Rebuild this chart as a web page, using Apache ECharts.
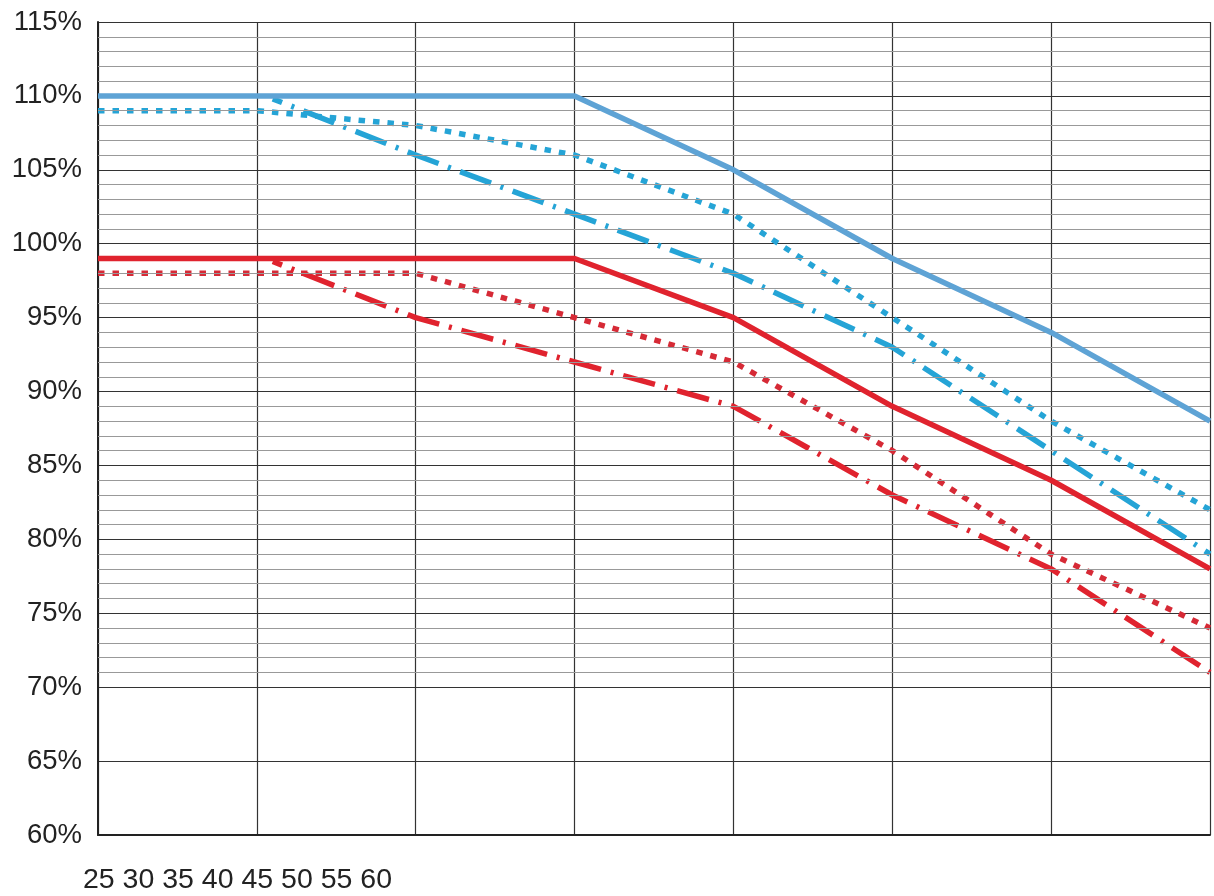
<!DOCTYPE html>
<html>
<head>
<meta charset="utf-8">
<script src="https://cdn.jsdelivr.net/npm/echarts@6/dist/echarts.min.js"></script>
<style>
  html, body { margin: 0; padding: 0; background: #fff; }
  #chart { width: 1214px; height: 896px; }
</style>
</head>
<body>
<div id="chart"></div>
<script>
// x 轴刻度（参考图中标签挤在左下角）
var xTicks = [25, 30, 35, 40, 45, 50, 55, 60];
// 点划线从 30 之后才开始
var dashDotX = [30.5, 35, 40, 45, 50, 55, 60];

// 蓝色三条
var blueSolid = [110, 110, 110, 110, 105, 99, 94, 88];
var blueDotted = [109, 109, 108, 106, 102, 95, 88, 82];
var blueDashDot = [109.8, 106, 102, 98, 93, 86, 79];

// 红色三条
var redSolid = [99, 99, 99, 99, 95, 89, 84, 78];
var redDotted = [98, 98, 98, 95, 92, 86, 79, 74];
var redDashDot = [98.8, 95, 92, 89, 83, 78, 71];

// 细网格线只画在 70%~115% 之间
var minorLines = [];
for (var v = 71; v < 115; v++) {
    if (v % 5 !== 0) minorLines.push({ yAxis: v });
}

function pairs(xs, ys) {
    var out = [];
    ys.forEach(function(item, index) {
        out.push([xs[index], item]);
    });
    return out;
}

var FONT = '"Liberation Sans", Arial, sans-serif';
var BLUE = '#5ea3d5';
var CYAN = '#25a4d6';
var RED = '#e0232e';

var myChart = echarts.init(document.getElementById('chart'));

var option = {
    animation: false,
    grid: { left: 98, right: 4, top: 22, bottom: 61 },
    xAxis: {
        type: 'value',
        min: 25,
        max: 60,
        interval: 5,
        axisLabel: { show: false },
        axisTick: { show: false },
        axisLine: { show: true, lineStyle: { color: '#222', width: 2 } },
        splitLine: { show: true, lineStyle: { color: '#333', width: 1.2 } }
    },
    yAxis: {
        type: 'value',
        min: 60,
        max: 115,
        interval: 5,
        axisTick: { show: false },
        axisLine: { show: true, lineStyle: { color: '#222', width: 2 } },
        splitLine: { show: true, lineStyle: { color: '#333', width: 1.2 } },
        axisLabel: {
            formatter: '{value}%',
            color: '#222',
            fontSize: 27.5,
            fontFamily: FONT,
            margin: 16
        }
    },
    graphic: [{
        type: 'text',
        left: 83,
        top: 866,
        style: {
            text: xTicks.join(' '),
            fill: '#222',
            fontSize: 28.5,
            fontFamily: FONT
        }
    }],
    series: [
        {
            // 细网格线
            type: 'line',
            data: [],
            z: 1,
            silent: true,
            markLine: {
                silent: true,
                symbol: 'none',
                label: { show: false },
                lineStyle: { color: '#999', width: 1.2, type: 'solid' },
                data: minorLines
            }
        },
        {
            type: 'line', data: pairs(xTicks, blueSolid), symbol: 'none', z: 5,
            lineStyle: { color: BLUE, width: 5.5 }
        },
        {
            type: 'line', data: pairs(xTicks, blueDotted), symbol: 'none', z: 4,
            lineStyle: { color: CYAN, width: 5.5, type: [6.5, 8] }
        },
        {
            type: 'line', data: pairs(dashDotX, blueDashDot), symbol: 'none', z: 4,
            lineStyle: { color: CYAN, width: 5.5, type: [33, 10, 3, 10], dashOffset: 23 }
        },
        {
            type: 'line', data: pairs(xTicks, redSolid), symbol: 'none', z: 5,
            lineStyle: { color: RED, width: 5.5 }
        },
        {
            type: 'line', data: pairs(xTicks, redDotted), symbol: 'none', z: 4,
            lineStyle: { color: '#d62a36', width: 5.5, type: [6.5, 8] }
        },
        {
            type: 'line', data: pairs(dashDotX, redDashDot), symbol: 'none', z: 4,
            lineStyle: { color: RED, width: 5.5, type: [33, 10, 3, 10], dashOffset: 23 }
        }
    ]
};
myChart.setOption(option);
</script>
</body>
</html>
